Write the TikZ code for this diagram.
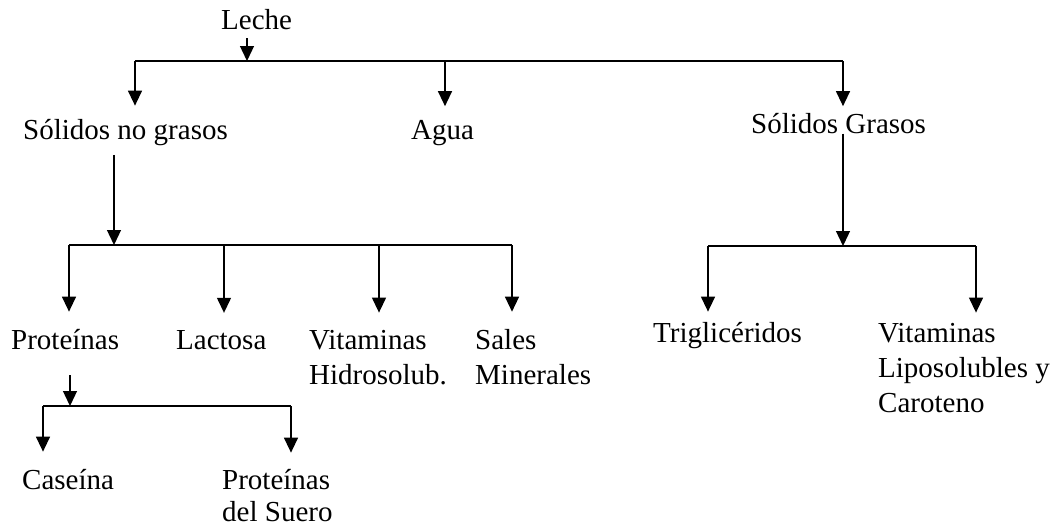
\documentclass[tikz,border=0pt]{standalone}
\usepackage{fontspec}
\setmainfont{Liberation Serif}
\usetikzlibrary{arrows.meta}

\begin{document}
\begin{tikzpicture}[x=1pt, y=-1pt, font=\fontsize{29}{35}\selectfont]
    \tikzstyle{rama} = [line width=1.3pt]
    \tikzstyle{flecha} = [rama, -{Triangle[width=14pt,length=15pt]}]
    \tikzstyle{texto} = [inner sep=0pt, anchor=base west, align=left]
    \useasboundingbox (0, 0) rectangle (1062, 530);

    \node[texto] (leche) at (221, 29.5) {Leche};
    \node[texto] (snog) at (23, 139.5) {Sólidos no grasos};
    \node[texto] (agua) at (411, 139.5) {Agua};
    \node[texto] (sg) at (751, 133.5) {Sólidos Grasos};
    \node[texto] (prot) at (11, 349.5) {Proteínas};
    \node[texto] (lact) at (176, 349.5) {Lactosa};
    \node[texto] (vith) at (309, 384.5) {Vitaminas\\Hidrosolub.};
    \node[texto] (sales) at (475, 384.5) {Sales\\Minerales};
    \node[texto] (trig) at (653, 342.5) {Triglicéridos};
    \node[texto] (vitl) at (878, 412.5) {Vitaminas\\Liposolubles y\\Caroteno};
    \node[texto] (cas) at (22, 489) {Caseína};
    \node[texto, font=\fontsize{29}{32}\selectfont] (psuero) at (222, 521) {Proteínas\\del Suero};

    \coordinate (j0) at (247, 61);
    \coordinate (j0a) at (135, 61);
    \coordinate (j0b) at (445, 61);
    \coordinate (j0c) at (843, 61);
    \draw[flecha, shorten <=8.5pt] (j0 |- leche.south) -- (j0);
    \draw[rama] (j0a) -- (j0c);
    \draw[flecha, shorten >=13.5pt] (j0a) -- (j0a |- snog.north);
    \draw[flecha, shorten >=14pt] (j0b) -- (j0b |- agua.north);
    \draw[flecha, shorten >=7pt] (j0c) -- (j0c |- sg.north);

    \coordinate (j1) at (114, 245);
    \coordinate (j1a) at (69, 245);
    \coordinate (j1b) at (224, 245);
    \coordinate (j1c) at (379, 245);
    \coordinate (j1d) at (512, 245);
    \draw[flecha, shorten <=9pt] (j1 |- snog.south) -- (j1);
    \draw[rama] (j1a) -- (j1d);
    \draw[flecha, shorten >=17.5pt] (j1a) -- (j1a |- prot.north);
    \draw[flecha, shorten >=17.5pt] (j1b) -- (j1b |- lact.north);
    \draw[flecha, shorten >=17.5pt] (j1c) -- (j1c |- vith.north);
    \draw[flecha, shorten >=17.5pt] (j1d) -- (j1d |- sales.north);

    \coordinate (j2) at (843, 246);
    \coordinate (j2a) at (708, 246);
    \coordinate (j2b) at (976, 246);
    \draw[flecha] (j2 |- sg.base) -- (j2);
    \draw[rama] (j2a) -- (j2b);
    \draw[flecha, shorten >=10.5pt] (j2a) -- (j2a |- trig.north);
    \draw[flecha, shorten >=10.5pt] (j2b) -- (j2b |- vitl.north);

    \coordinate (j3) at (70, 406);
    \coordinate (j3a) at (43, 406);
    \coordinate (j3b) at (291, 406);
    \draw[flecha, shorten <=25.5pt] (j3 |- prot.south) -- (j3);
    \draw[rama] (j3a) -- (j3b);
    \draw[flecha, shorten >=17pt] (j3a) -- (j3a |- cas.north);
    \draw[flecha, shorten >=16pt] (j3b) -- (j3b |- psuero.north);
\end{tikzpicture}
\end{document}
